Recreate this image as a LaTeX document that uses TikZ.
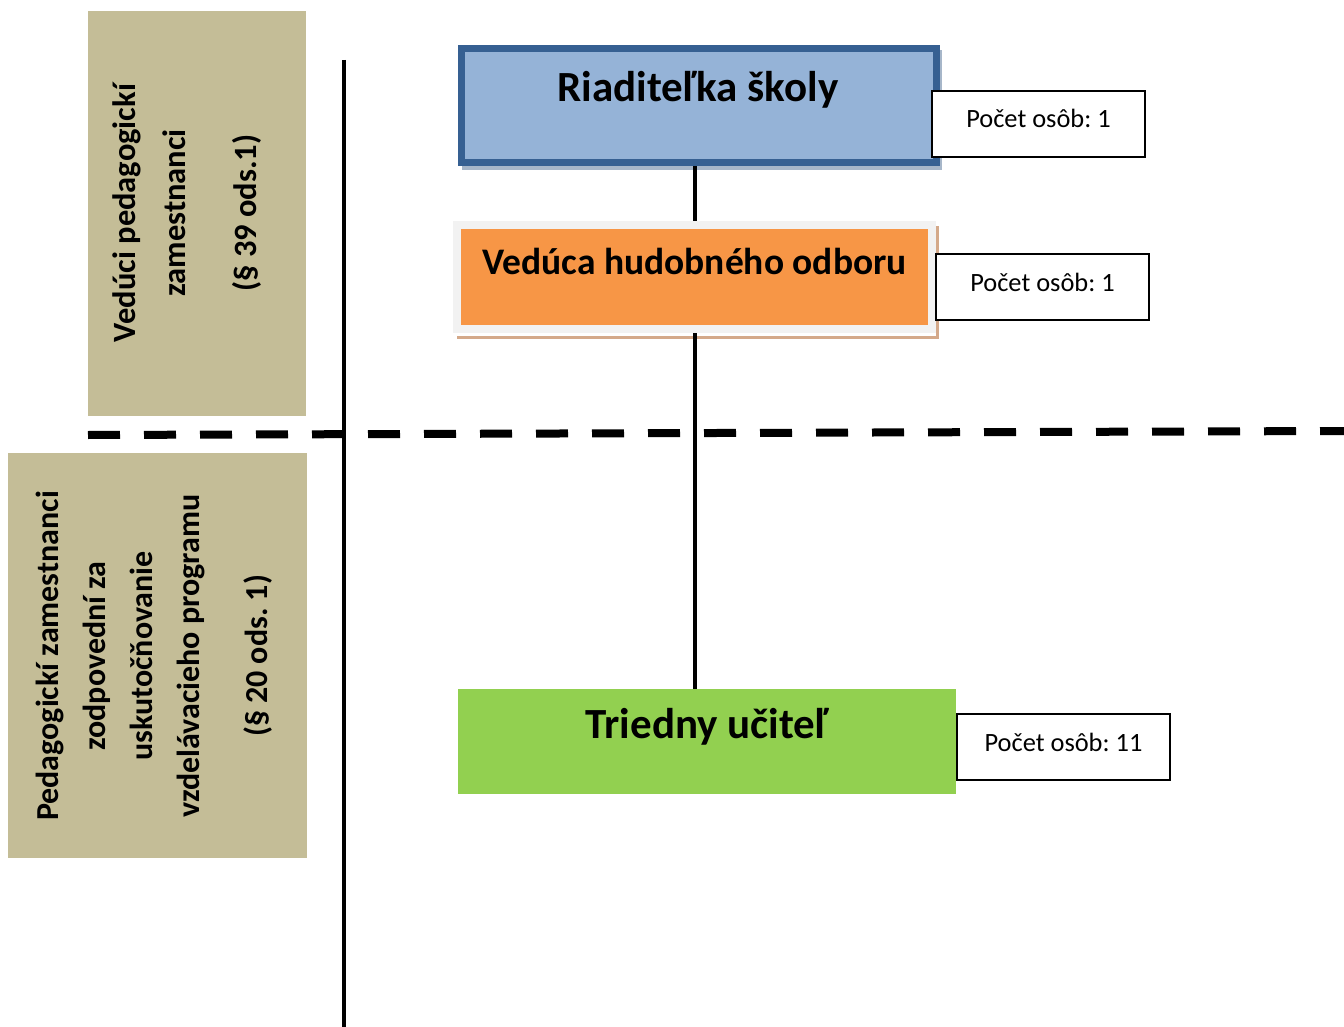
\documentclass[tikz,border=0pt]{standalone}
\usepackage{fontspec}
\setmainfont{Carlito}
\usetikzlibrary{backgrounds}
\definecolor{tanbg}{HTML}{C4BD97}
\definecolor{bluefill}{HTML}{95B3D7}
\definecolor{bluedark}{HTML}{366092}
\definecolor{blueshade}{HTML}{A6B6C9}
\definecolor{orangefill}{HTML}{F79646}
\definecolor{framegrey}{HTML}{F2F2F2}
\definecolor{orangeshade}{HTML}{D4A98A}
\definecolor{greenfill}{HTML}{92D050}
\frenchspacing
\begin{document}
\begin{tikzpicture}[x=1pt,y=-1pt,
  bandtext/.style={rotate=90, align=center, inner sep=0pt, font=\bfseries\fontsize{32.5}{50}\selectfont},
  titletext/.style={inner sep=0pt, font=\bfseries\fontsize{43}{48}\selectfont},
  countbox/.style={draw=black, line width=2pt, fill=white, minimum width=213pt, minimum height=66pt,
    inner sep=0pt, text height=18pt, text depth=10pt, font=\fontsize{26.4}{30}\selectfont},
  conn/.style={draw=black, line width=4pt},
  levelline/.style={draw=black, line width=8pt, dash pattern=on 32pt off 24pt}]
\useasboundingbox (0,0) rectangle (1344,1027);

% category bands on the left
\fill[tanbg] (88,11) rectangle (306,416);
\fill[tanbg] (8,453) rectangle (307,858);
\node[bandtext] (bandtop) at (187,213) {Vedúci pedagogickí\\zamestnanci\\[21pt](§ 39 ods.1)};
\node[bandtext, font=\bfseries\fontsize{32}{47}\selectfont] (bandbot) at (154,656)
  {Pedagogickí zamestnanci\\zodpovední za\\uskutočňovanie\\vzdelávacieho programu\\[21pt](§ 20 ods. 1)};

% separators
\coordinate (septop) at (344,60);
\coordinate (sepbot) at (344,1027);
\draw[conn] (septop) -- (sepbot);
\coordinate (levl) at (88,435);
\coordinate (levr) at (1344,431);
\draw[levelline] (levl) -- (levr);

% director
\node[draw=bluedark, line width=7pt, fill=bluefill, minimum width=475pt, minimum height=114pt, inner sep=0pt]
  (head) at (699,105.5) {};
\node[titletext] (headtxt) at (698,90) {Riaditeľka školy};

% head of music department
\node[draw=framegrey, line width=8pt, fill=orangefill, minimum width=475pt, minimum height=104pt, inner sep=0pt]
  (dept) at (694.5,277) {};
\node[titletext, font=\bfseries\fontsize{37.5}{42}\selectfont] (depttxt) at (694.5,261) {Vedúca hudobného odboru};

% class teacher
\node[fill=greenfill, minimum width=498pt, minimum height=105pt, inner sep=0pt]
  (teacher) at (707,741.5) {};
\node[titletext] (teachertxt) at (707,727) {Triedny učiteľ};

% head counts
\node[countbox] (cnthead) at (1038.5,124) {Počet osôb: 1};
\node[countbox] (cntdept) at (1042.5,287) {Počet osôb: 1};
\node[countbox] (cntteacher) at (1063.5,747) {Počet osôb: 11};

% drop shadows and reporting lines behind the boxes
\begin{scope}[on background layer]
\fill[blueshade] (462,50) rectangle (942,170);
\fill[orangeshade] (457,226) rectangle (939,339);
\fill[white] (453,221) rectangle (936,335.5);
\draw[conn] (dept.north |- head.south) -- (dept.north);
\draw[conn] (dept.south) -- (dept.south |- teacher.north);
\end{scope}
\end{tikzpicture}
\end{document}
